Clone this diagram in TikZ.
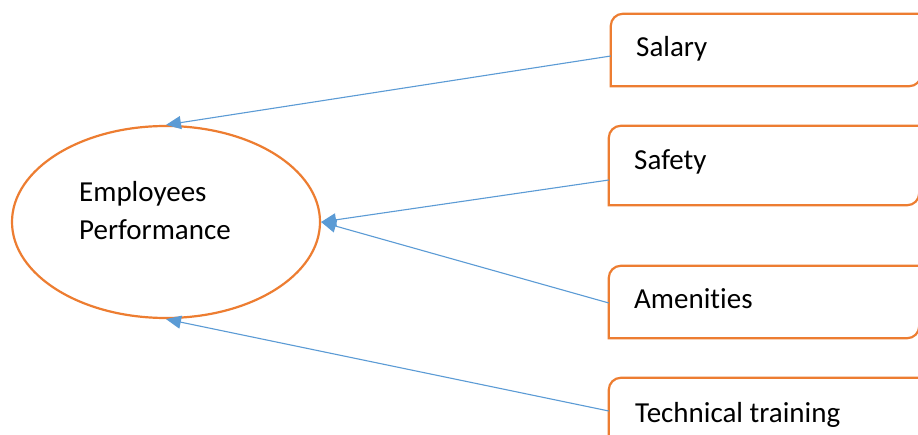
\documentclass[tikz,border=0pt]{standalone}
\usepackage{fontspec}
\setmainfont[Ligatures={NoCommon}]{Carlito}
\usetikzlibrary{arrows.meta,shapes.geometric}
\definecolor{accentorange}{HTML}{ED7D31}
\definecolor{accentblue}{HTML}{5B9BD5}
\tikzset{
  bigtext/.style={font=\fontsize{29}{38}\selectfont, inner sep=0pt},
  factorbox/.style={draw=none, inner sep=0pt, minimum width=310pt},
  boxline/.style={draw=accentorange, line width=2.2pt},
  link/.style={draw=accentblue, line width=1.1pt, -{Triangle[length=15pt,width=13pt]}},
}
\newcommand{\diagbox}[1]{%
  \draw[boxline] (#1.north east) -- ([xshift=12pt]#1.north west)
    arc[start angle=90, end angle=180, radius=12pt]
    -- (#1.south west) -- ([xshift=-12pt]#1.south east)
    arc[start angle=270, end angle=360, radius=12pt] -- cycle;}
\begin{document}
\begin{tikzpicture}[x=1pt,y=1pt]
  \clip (0,0) rectangle (918,434);
  \fill[white] (0,0) rectangle (918,434);

  % central ellipse
  \node[draw=accentorange, line width=2.2pt, ellipse, minimum width=308pt,
        minimum height=192pt, inner sep=0pt] (emp) at (166,212) {};
  \node[bigtext, anchor=base west] (empa) at (79,232) {Employees};
  \node[bigtext, anchor=base west] (empb) at (79,194) {Performance};

  % factor boxes
  \node[factorbox, minimum height=72pt] (sal) at (766,384) {};
  \node[factorbox, minimum height=79pt] (saf) at (764,268.5) {};
  \node[factorbox, minimum height=72pt] (ame) at (764,132) {};
  \node[factorbox, minimum height=72pt] (tec) at (764,20) {};
  \diagbox{sal}
  \diagbox{saf}
  \diagbox{ame}
  \diagbox{tec}

  \node[bigtext, anchor=base west] (salt) at (636,377) {Salary};
  \node[bigtext, anchor=base west] (saft) at (634,264) {Safety};
  \node[bigtext, anchor=base west] (amet) at (634,125) {Amenities};
  \node[bigtext, anchor=base west] (tect) at (635,12) {Technical training};

  % connectors
  \draw[link] ([yshift=-6pt]sal.west) -- (emp.north);
  \draw[link] ([yshift=-14.5pt]saf.west) -- (emp.east);
  \draw[link] ([yshift=-1pt]ame.west) -- (emp.east);
  \draw[link] ([yshift=3pt]tec.west) -- (emp.south);
\end{tikzpicture}
\end{document}
